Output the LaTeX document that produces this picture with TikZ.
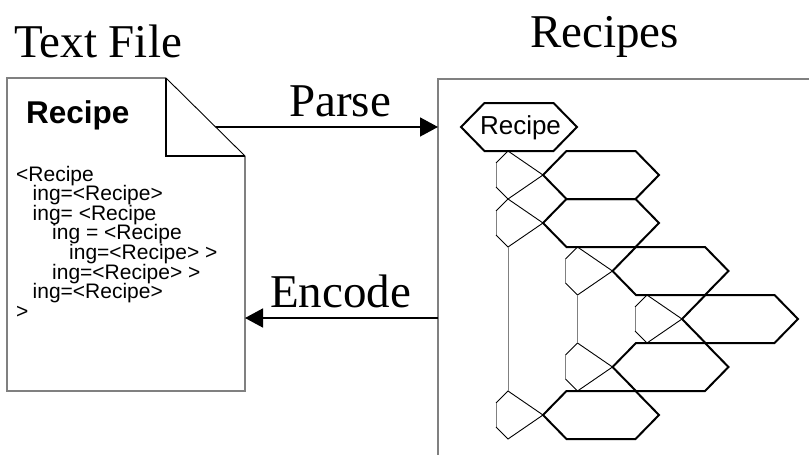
\documentclass[tikz,border=0pt]{standalone}
\usepackage{fontspec}
\setmainfont{Liberation Serif}
\setsansfont{Liberation Sans}
\usetikzlibrary{arrows.meta}

\definecolor{edgegray}{HTML}{808080}

\tikzset{
  outline/.style={draw=edgegray, line width=1.6pt},
  foldline/.style={draw=black, line width=1.6pt},
  hexline/.style={draw=black, line width=2pt, line join=miter},
  tabline/.style={draw=black, line width=0.9pt},
  tabgray/.style={draw=edgegray, line width=1pt},
  flow/.style={draw=black, line width=1.6pt, -{Triangle[length=18pt,width=19pt]}},
  title/.style={font=\fontsize{47}{56}\selectfont, anchor=base west, inner sep=0pt},
  code/.style={font=\sffamily\fontsize{21}{23}\selectfont, anchor=base west, inner sep=0pt},
  % elongated hexagon, origin at its left vertex
  hexa/.pic={
    \draw[hexline] (0,0) -- (23.5,-24) -- (92.5,-24) -- (116,0)
                   -- (92.5,24) -- (23.5,24) -- cycle;
    \coordinate (-left) at (0,0);
    \coordinate (-bl) at (23.5,24);
  },
  % pentagonal tab that leads into a hexagon, origin at the hexagon's left vertex
  tab/.pic={
    \coordinate (-tip) at (0,0);
    \coordinate (-top) at (-35,-24);
    \coordinate (-ul) at (-47,-12);
    \coordinate (-ll) at (-47,12);
    \coordinate (-bot) at (-35,24);
    \draw[tabline] (-tip) -- (-top) -- (-ul);
    \draw[tabgray] (-ul) -- (-ll);
    \draw[tabline] (-ll) -- (-bot) -- (-tip);
  }
}

\begin{document}
\begin{tikzpicture}[x=1pt, y=-1pt]
\useasboundingbox (0,0) rectangle (809,455);

% ---- text file page with dog-ear ----
\coordinate (doctl) at (7,78);
\coordinate (folda) at (166,78);
\coordinate (foldb) at (245,156);
\coordinate (foldc) at (166,156);
\coordinate (docbr) at (245,391);
\coordinate (docbl) at (7,391);
\draw[outline] (folda) -- (doctl) -- (docbl) -- (docbr) -- (foldb);
\draw[foldline] (folda) -- (foldc) -- (foldb);
\draw[black, line width=0.9pt] (folda) -- (foldb);

\node[title] (tfile) at (14,57) {Text File};
\node[anchor=base west, inner sep=0pt, font=\sffamily\bfseries\fontsize{31.5}{34}\selectfont] (dochead) at (26,123) {Recipe};

\node[code] (l1) at (16,181)   {<Recipe};
\node[code] (l2) at (32.5,200.6) {ing=<Recipe>};
\node[code] (l3) at (32.5,220.2) {ing= <Recipe};
\node[code] (l4) at (52,239.8) {ing = <Recipe};
\node[code] (l5) at (69,259.4) {ing=<Recipe> >};
\node[code] (l6) at (52,279) {ing=<Recipe> >};
\node[code] (l7) at (32.5,298.6) {ing=<Recipe>};
\node[code] (l8) at (16,318.2) {>};

% ---- recipes panel ----
\coordinate (boxtl) at (438,79);
\coordinate (boxtr) at (809,79);
\coordinate (boxbl) at (438,455);
\draw[outline] (boxtr) -- (boxtl) -- (boxbl);
\node[title] (rtitle) at (530,47) {Recipes};

% ---- parse / encode arrows ----
\path (folda) -- (foldb) coordinate[pos=0.628] (parsefrom);
\coordinate (encfrom) at (438,318);
\draw[flow] (parsefrom) -- (parsefrom -| boxtl);
\draw[flow] (encfrom) -- (encfrom -| docbr);
\node[title] (parse) at (289,116) {Parse};
\node[title] (encode) at (270,307) {Encode};

% ---- recipe tree ----
\pic (root) at (461,127) {hexa};
\node[font=\sffamily\fontsize{26}{28}\selectfont, anchor=base, inner sep=0pt] (rootlabel) at (520.5,134.5) {Recipe};

\pic (h1) at (543,175) {hexa};
\pic (h2) at (543,223) {hexa};
\pic (h3) at (612.5,271) {hexa};
\pic (h4) at (682,319) {hexa};
\pic (h5) at (612.5,367) {hexa};
\pic (h6) at (543,415) {hexa};

\pic (t1) at (h1-left) {tab};
\pic (t2) at (h2-left) {tab};
\pic (t3) at (h3-left) {tab};
\pic (t4) at (h4-left) {tab};
\pic (t5) at (h5-left) {tab};
\pic (t6) at (h6-left) {tab};

\draw[tabgray] (t2-bot) -- (t6-top);
\draw[tabgray] (t3-bot) -- (t5-top);
\end{tikzpicture}
\end{document}
